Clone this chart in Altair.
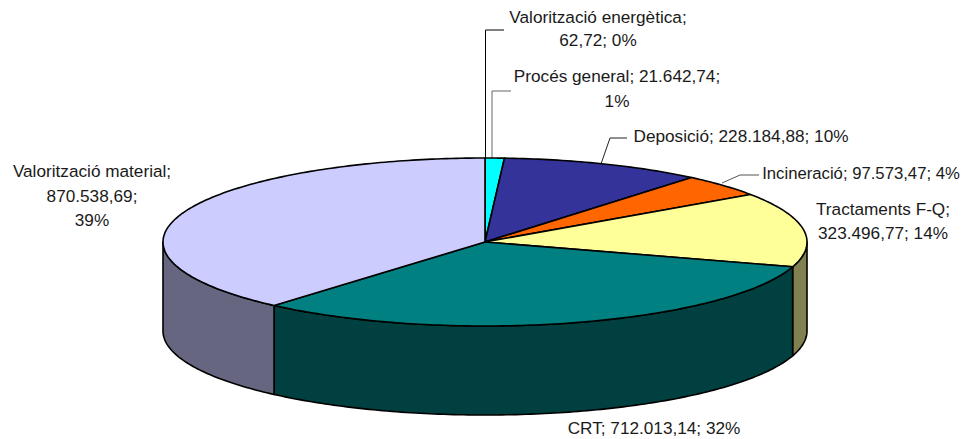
import math
import altair as alt

# --- chart values ---
categories = ["Valorització energètica", "Procés general", "Deposició", "Incineració",
              "Tractaments F-Q", "CRT", "Valorització material"]
values = [62.72, 21642.74, 228184.88, 97573.47, 323496.77, 712013.14, 870538.69]
top_colors = ["#00FFFF", "#00FFFF", "#333399", "#FF6600", "#FFFF99", "#008080", "#CCCCFF"]
side_colors = ["#008080", "#008080", "#1A1A4D", "#803300", "#808050", "#004040", "#666680"]

label_lines = ["Valorització energètica;", "62,72; 0%", "Procés general; 21.642,74;", "1%",
               "Deposició; 228.184,88; 10%", "Incineració; 97.573,47; 4%",
               "Tractaments F-Q;", "323.496,77; 14%",
               "Valorització material;", "870.538,69;", "39%", "CRT; 712.013,14; 32%"]
label_x = [598, 598, 617, 617, 741, 861, 883, 883, 92, 92, 92, 654]
label_y = [18, 41, 77, 102, 137, 174, 210, 234, 172, 197, 221, 429]
label_size = [17.2, 17.2, 17.2, 17.2, 17.2, 16.7, 17.2, 17.2, 17.2, 17.2, 17.2, 17.2]

leader_paths = [[[485.5, 158], [485.5, 30], [504, 30]],
                [[492, 158], [492, 91], [511, 91]],
                [[601, 164], [610, 138], [627, 138]],
                [[722, 183], [740, 175], [759, 175]]]
leader_colors = ["#000000", "#666666", "#222222", "#555555"]

# --- pie geometry (projected disc) ---
CX, CY, RX, RY, DEPTH = 485, 242, 322, 84, 89
total = sum(values)


def pt(a, dy=0.0):
    return [CX + RX * math.sin(a), CY - RY * math.cos(a) + dy]


def arc(a0, a1, dy=0.0):
    n = max(2, int(abs(a1 - a0) / 0.015))
    return [pt(a0 + (a1 - a0) * i / n, dy) for i in range(n + 1)]


features = []
cum = 0.0
angles = []
for v in values:
    a0 = cum / total * 2 * math.pi
    cum += v
    angles.append((a0, cum / total * 2 * math.pi))

# visible outer walls first
for i, (a0, a1) in enumerate(angles):
    lo, hi = max(a0, math.pi / 2), min(a1, 3 * math.pi / 2)
    if hi > lo:
        ring = arc(lo, hi) + arc(hi, lo, DEPTH)
        ring.append(ring[0])
        features.append({"type": "Feature", "properties": {"name": "side" + str(i), "fill": side_colors[i]},
                         "geometry": {"type": "Polygon", "coordinates": [ring]}})
# then the top wedges
for i, (a0, a1) in enumerate(angles):
    ring = [[CX, CY]] + arc(a0, a1) + [[CX, CY]]
    features.append({"type": "Feature", "properties": {"name": "top" + str(i), "fill": top_colors[i]},
                     "geometry": {"type": "Polygon", "coordinates": [ring]}})

leaders = [{"type": "Feature", "properties": {"name": "l" + str(i), "col": leader_colors[i]},
            "geometry": {"type": "LineString", "coordinates": p}} for i, p in enumerate(leader_paths)]

proj = dict(type="identity", scale=1, translate=[-8, -8])

pie = alt.Chart(alt.Data(values=features)).mark_geoshape(
    stroke="#000000", strokeWidth=1.6, strokeJoin="round"
).encode(
    fill=alt.Fill("properties.fill:N", scale=None)
).project(**proj)

lead = alt.Chart(alt.Data(values=leaders)).mark_geoshape(
    filled=False, strokeWidth=1
).encode(
    stroke=alt.Stroke("properties.col:N", scale=None)
).project(**proj)

labels = alt.Chart(alt.Data(values=[
    {"t": t, "lon": x, "lat": y, "s": s} for t, x, y, s in zip(label_lines, label_x, label_y, label_size)
])).mark_text(
    font="Liberation Sans", color="#1a1a1a", align="center", baseline="middle"
).encode(
    longitude="lon:Q", latitude="lat:Q", text="t:N",
    size=alt.Size("s:Q", scale=None)
).project(**proj)

chart = alt.layer(lead, pie, labels).properties(
    width=952, height=431, padding=0, autosize=alt.AutoSizeParams(type="none"),
    background="#ffffff"
).configure_view(stroke=None)

chart.save("out.html", embed_options={"renderer": "svg", "actions": False})
